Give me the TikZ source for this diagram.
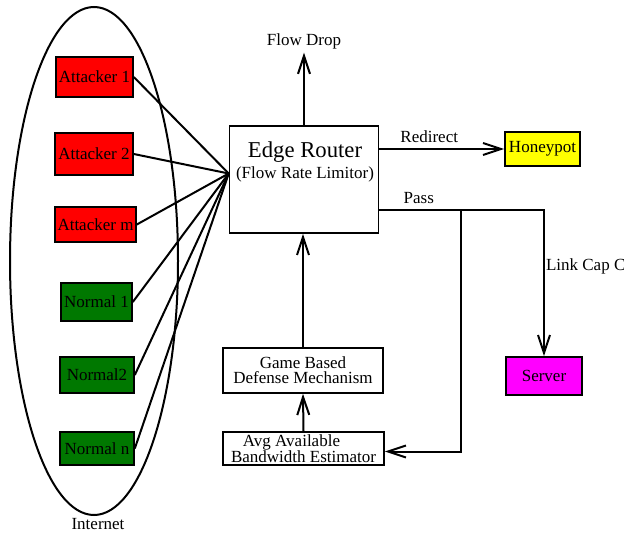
\documentclass[tikz,border=0pt]{standalone}
\usepackage{fontspec}
\setmainfont{Liberation Serif}
\usetikzlibrary{positioning,arrows.meta,calc,shapes.geometric}
\definecolor{attackred}{RGB}{255,0,0}
\definecolor{normalgreen}{RGB}{0,120,0}
\definecolor{potyellow}{RGB}{255,255,0}
\definecolor{servermagenta}{RGB}{255,0,255}
\tikzset{
  >={Straight Barb[length=18pt,width=12pt]},
  shorten >=0pt,
}

\begin{document}
\begin{tikzpicture}[
  x=1pt,y=-1pt,
  line width=2pt,
  every node/.style={font=\fontsize{17}{15}\selectfont},
  host/.style={draw,inner sep=0pt,line width=1.6pt},
  box/.style={draw,inner sep=0pt,align=center,line width=1.6pt,fill=white}
]
\useasboundingbox (0,0) rectangle (624,533);

% internet cloud
\node[draw,ellipse,minimum width=168,minimum height=508,inner sep=0pt] (internet) at (94,261) {};
\node[anchor=north,inner sep=0pt] (inetlbl) at ($(internet.south)+(4,1)$) {Internet};

% hosts
\node[host,fill=attackred,minimum width=77,minimum height=40] (att1) at (94.5,77) {Attacker 1};
\node[host,fill=attackred,minimum width=78,minimum height=42] (att2) at (94,154) {Attacker 2};
\node[host,fill=attackred,minimum width=81,minimum height=35] (attm) at (95.5,224.5) {Attacker m};
\node[host,fill=normalgreen,minimum width=71,minimum height=38] (nor1) at (96.5,302) {Normal 1};
\node[host,fill=normalgreen,minimum width=74,minimum height=36] (nor2) at (97,375) {Normal2};
\node[host,fill=normalgreen,minimum width=74,minimum height=33] (norn) at (97,448.5) {Normal n};

% router and defense boxes
\node[box,minimum width=149,minimum height=107] (router) at (304,179.5) {};
\node[anchor=north,align=center,inner sep=0pt,font=\fontsize{17}{21}\selectfont] (routertxt) at (305,141)
  {{\fontsize{22.7}{21}\selectfont Edge Router}\\(Flow Rate Limitor)};
\node[box,minimum width=160,minimum height=45] (game) at (303,370.5) {Game Based\\Defense Mechanism};
\node[box,minimum width=161,minimum height=33] (est) at (303.5,448.5) {Avg Available\hspace*{24pt}\\Bandwidth Estimator};
\node[host,fill=potyellow,minimum width=75,minimum height=34] (hp) at (542.5,149) {Honeypot};
\node[host,fill=servermagenta,minimum width=76,minimum height=38] (server) at (544,376) {Server};
\node[inner sep=3pt] (drop) at (304,41) {Flow Drop};

\coordinate (rin) at ($(router.west)+(0,-6)$);
\coordinate (pass) at ($(router.south east)+(0,-24)$);
\coordinate (tap) at ($(pass)+(82,0)$);

% incoming flows
\foreach \h in {att1,att2,attm,nor1,nor2,norn}
  \draw (\h.east) -- (rin);

\draw[->] (router.north) -- (drop.south);
\draw[->] (router.east |- hp.west) -- node[above,pos=0.4,inner sep=5pt] {Redirect} (hp.west);
\draw[->] (pass) -- node[above,pos=0.24,inner sep=5pt] {Pass} (pass -| server.north)
  -- node[right,pos=0.39,inner sep=1pt] {Link Cap C} (server.north);
\draw[->] (tap) |- ($(est.east)+(0,3)$);
\draw[->] (est.north) -- (game.south);
\draw[->] (game.north) -- (game.north |- router.south);

\end{tikzpicture}
\end{document}
